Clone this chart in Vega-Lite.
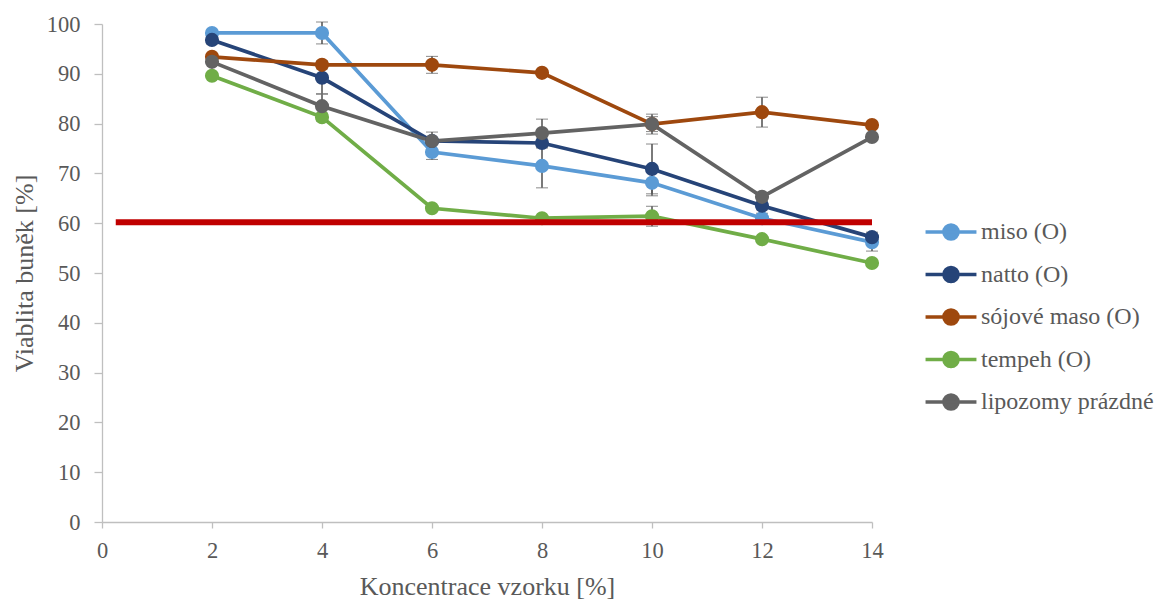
{
  "$schema": "https://vega.github.io/schema/vega-lite/v6.json",
  "autosize": {"type": "none"},
  "width": 770,
  "height": 498,
  "padding": {"left": 102, "top": 24, "right": 286, "bottom": 79},
  "background": "white",
  "config": {
    "font": "Liberation Serif",
    "view": {"stroke": null},
    "text": {"font": "Liberation Serif"},
    "style": {
      "guide-label": {"font": "Liberation Serif", "fill": "#595959"},
      "guide-title": {"font": "Liberation Serif", "fill": "#595959", "fontWeight": "normal"}
    },
    "legend": {"labelFont": "Liberation Serif", "titleFont": "Liberation Serif"},
    "axis": {"grid": false, "domainColor": "#BFBFBF", "tickColor": "#BFBFBF", "domainWidth": 1.3, "tickWidth": 1.3, "tickSize": 6, "labelColor": "#595959", "labelFontSize": 22.5, "labelFont": "Liberation Serif", "titleColor": "#595959", "titleFontSize": 26, "titleFontWeight": "normal", "titleFont": "Liberation Serif", "labelFlush": false}
  },
  "datasets": {
    "series": [
      {"s": "miso (O)", "x": 2, "y": 98.2, "e": 0.5},
      {"s": "miso (O)", "x": 4, "y": 98.2, "e": 2.2},
      {"s": "miso (O)", "x": 6, "y": 74.3, "e": 1.5},
      {"s": "miso (O)", "x": 8, "y": 71.5, "e": 4.4},
      {"s": "miso (O)", "x": 10, "y": 68.1, "e": 2.6},
      {"s": "miso (O)", "x": 12, "y": 61.0, "e": 1.0},
      {"s": "miso (O)", "x": 14, "y": 56.2, "e": 1.8},
      {"s": "natto (O)", "x": 2, "y": 96.8, "e": 0.8},
      {"s": "natto (O)", "x": 4, "y": 89.2, "e": 3.2},
      {"s": "natto (O)", "x": 6, "y": 76.5, "e": 0.5},
      {"s": "natto (O)", "x": 8, "y": 76.1, "e": 1.0},
      {"s": "natto (O)", "x": 10, "y": 70.9, "e": 5.0},
      {"s": "natto (O)", "x": 12, "y": 63.5, "e": 0.8},
      {"s": "natto (O)", "x": 14, "y": 57.2, "e": 1.0},
      {"s": "sójové maso (O)", "x": 2, "y": 93.4, "e": 0.5},
      {"s": "sójové maso (O)", "x": 4, "y": 91.8, "e": 0.8},
      {"s": "sójové maso (O)", "x": 6, "y": 91.8, "e": 1.7},
      {"s": "sójové maso (O)", "x": 8, "y": 90.2, "e": 0.5},
      {"s": "sójové maso (O)", "x": 10, "y": 79.9, "e": 1.5},
      {"s": "sójové maso (O)", "x": 12, "y": 82.3, "e": 3.0},
      {"s": "sójové maso (O)", "x": 14, "y": 79.7, "e": 0.5},
      {"s": "tempeh (O)", "x": 2, "y": 89.6, "e": 0.5},
      {"s": "tempeh (O)", "x": 4, "y": 81.3, "e": 0.8},
      {"s": "tempeh (O)", "x": 6, "y": 63.0, "e": 0.5},
      {"s": "tempeh (O)", "x": 8, "y": 61.0, "e": 0.5},
      {"s": "tempeh (O)", "x": 10, "y": 61.4, "e": 2.0},
      {"s": "tempeh (O)", "x": 12, "y": 56.8, "e": 0.5},
      {"s": "tempeh (O)", "x": 14, "y": 52.0, "e": 0.5},
      {"s": "lipozomy prázdné", "x": 2, "y": 92.4, "e": 0.5},
      {"s": "lipozomy prázdné", "x": 4, "y": 83.5, "e": 2.4},
      {"s": "lipozomy prázdné", "x": 6, "y": 76.5, "e": 1.8},
      {"s": "lipozomy prázdné", "x": 8, "y": 78.1, "e": 2.8},
      {"s": "lipozomy prázdné", "x": 10, "y": 79.9, "e": 2.0},
      {"s": "lipozomy prázdné", "x": 12, "y": 65.3, "e": 0.8},
      {"s": "lipozomy prázdné", "x": 14, "y": 77.3, "e": 0.5}
    ],
    "threshold": [{"x": 0.25, "x2": 14, "y": 60.2}]
  },
  "layer": [
    {
      "data": {"name": "series"},
      "mark": {"type": "line", "strokeWidth": 3.7},
      "encoding": {
        "x": {"field": "x", "type": "quantitative", "scale": {"domain": [0, 14], "nice": false}, "axis": {"values": [0, 2, 4, 6, 8, 10, 12, 14], "format": "d", "title": "Koncentrace vzorku [%]", "titlePadding": 12, "labelPadding": 11, "labelFlush": false}},
        "y": {"field": "y", "type": "quantitative", "scale": {"domain": [0, 100], "nice": false}, "axis": {"values": [0, 10, 20, 30, 40, 50, 60, 70, 80, 90, 100], "format": "d", "title": "Viablita buněk [%]", "titlePadding": 9, "labelPadding": 14, "tickSize": 8, "labelFlush": false}},
        "color": {
          "field": "s", "type": "nominal",
          "scale": {"domain": ["miso (O)", "natto (O)", "sójové maso (O)", "tempeh (O)", "lipozomy prázdné"], "range": ["#5B9BD5", "#264478", "#9E480E", "#70AD47", "#636363"]},
          "sort": ["miso (O)", "natto (O)", "sójové maso (O)", "tempeh (O)", "lipozomy prázdné"],
          "legend": {
            "title": null, "orient": "none", "legendX": 837, "legendY": 196,
            "symbolType": "M-3.6,0L3.6,0M1,0A1,1,0,1,1,-1,0A1,1,0,1,1,1,0Z",
            "symbolSize": 200, "symbolStrokeWidth": 3.5,
            "labelFontSize": 24, "labelColor": "#595959", "labelFont": "Liberation Serif", "labelLimit": 400,
            "labelOffset": 18, "rowPadding": 12.5,
            "encode": {
              "symbols": {"update": {"stroke": {"scale": "color", "field": "value"}, "fill": {"scale": "color", "field": "value"}, "strokeWidth": {"value": 3.5}, "opacity": {"value": 1}}},
              "labels": {"update": {"font": {"value": "Liberation Serif"}}}
            }
          }
        }
      }
    },
    {
      "data": {"name": "series"},
      "transform": [{"filter": "datum.e > 0"}],
      "mark": {"type": "errorbar", "ticks": {"size": 12, "color": "#595959", "strokeWidth": 1.6}, "rule": {"color": "#595959", "strokeWidth": 1.6}},
      "encoding": {
        "x": {"field": "x", "type": "quantitative", "axis": {"format": "d", "title": "Koncentrace vzorku [%]"}},
        "y": {"field": "y", "type": "quantitative", "axis": {"format": "d", "title": "Viablita buněk [%]"}},
        "yError": {"field": "e"},
        "detail": {"field": "s", "type": "nominal"}
      }
    },
    {
      "data": {"name": "series"},
      "mark": {"type": "point", "filled": true, "size": 200, "opacity": 1, "shape": "circle"},
      "encoding": {
        "x": {"field": "x", "type": "quantitative"},
        "y": {"field": "y", "type": "quantitative"},
        "color": {"field": "s", "type": "nominal"}
      }
    },
    {
      "data": {"name": "threshold"},
      "mark": {"type": "rule", "color": "#C00000", "strokeWidth": 6},
      "encoding": {
        "x": {"field": "x", "type": "quantitative"},
        "x2": {"field": "x2"},
        "y": {"field": "y", "type": "quantitative"}
      }
    }
  ]
}
